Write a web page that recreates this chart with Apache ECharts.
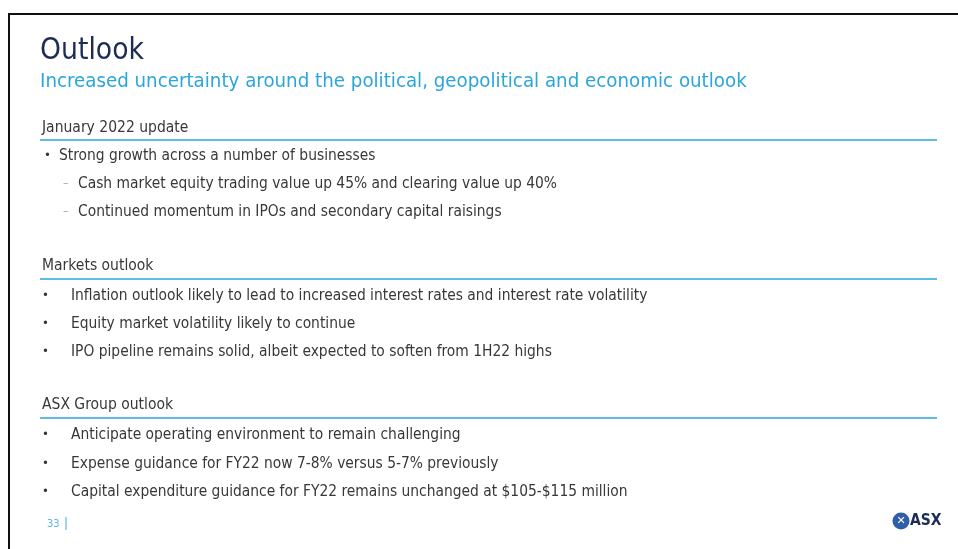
<!DOCTYPE html>
<html><head><meta charset="utf-8">
<script src="https://cdn.jsdelivr.net/npm/echarts@6/dist/echarts.min.js"></script>
<style>html,body{margin:0;padding:0;background:#fff}#c{width:958px;height:549px}</style>
</head><body><div id="c"></div>
<script>
const titleText = "Outlook";
const subtitleText = "Increased uncertainty around the political, geopolitical and economic outlook";
const sectionHeads = ["January 2022 update", "Markets outlook", "ASX Group outlook"];
const section1Items = ["Strong growth across a number of businesses"];
const section1SubItems = ["Cash market equity trading value up 45% and clearing value up 40%", "Continued momentum in IPOs and secondary capital raisings"];
const section2Items = ["Inflation outlook likely to lead to increased interest rates and interest rate volatility", "Equity market volatility likely to continue", "IPO pipeline remains solid, albeit expected to soften from 1H22 highs"];
const section3Items = ["Anticipate operating environment to remain challenging", "Expense guidance for FY22 now 7-8% versus 5-7% previously", "Capital expenditure guidance for FY22 remains unchanged at $105-$115 million"];
const pageNumber = "33";
const logoText = "ASX";

const FONT = '"Liberation Sans Narrow", "DejaVu Sans Condensed", "Open Sans", sans-serif';
const BODY = '#383838';
const BLUE = '#2aa6dc';
const g = [];
function txt(x, y, s, size, color, weight) {
  g.push({type:'text', x:x, y:y, style:{text:s, font:(weight||'normal')+' '+size+'px '+FONT, fill:color, textVerticalAlign:'middle'}});
}
function line(x1,y1,x2,y2,color,w){ g.push({type:'line', shape:{x1,y1,x2,y2}, style:{stroke:color, lineWidth:w}}); }

// frame
line(8,14,958,14,'#111',2);
line(9,14,9,549,'#111',2);

txt(40, 51, titleText, 29.7, '#1c2c55');
txt(40, 82, subtitleText, 20.3, BLUE);

// section 1
txt(42, 128, sectionHeads[0], 15.5, BODY);
line(40, 140, 937, 140, BLUE, 1.5);
txt(44, 156, '•', 13, BODY);
txt(59, 156, section1Items[0], 15.4, BODY);
section1SubItems.forEach((s,i)=>{ txt(63, 184+28*i, '–', 12, '#aaaaaa'); txt(78, 184+28*i, s, 15.4, BODY); });

// section 2
txt(42, 266, sectionHeads[1], 15.5, BODY);
line(40, 279, 937, 279, BLUE, 1.5);
section2Items.forEach((s,i)=>{ txt(42, 296+28*i, '•', 13, BODY); txt(71, 296+28*i, s, 15.4, BODY); });

// section 3
txt(42, 405, sectionHeads[2], 15.5, BODY);
line(40, 418, 937, 418, BLUE, 1.5);
section3Items.forEach((s,i)=>{ txt(42, 435+28.5*i, '•', 13, BODY); txt(71, 435+28.5*i, s, 15.4, BODY); });

// footer
txt(47, 524, pageNumber, 11, '#5bb8e6');
line(66, 517, 66, 530, '#5bb8e6', 1.2);

// logo
g.push({type:'circle', shape:{cx:901, cy:521, r:8.5}, style:{fill:'#2f5fa8'}});
g.push({type:'text', x:901, y:521, style:{text:'✕', font:'bold 11px "DejaVu Sans"', fill:'#ffffff', textAlign:'center', textVerticalAlign:'middle'}});
txt(910, 521, logoText, 15.5, '#1c2c55', 'bold');

const chart = echarts.init(document.getElementById('c'), null, {renderer:'canvas'});
chart.setOption({backgroundColor:'#ffffff', animation:false, graphic:{elements:g}});
</script></body></html>
